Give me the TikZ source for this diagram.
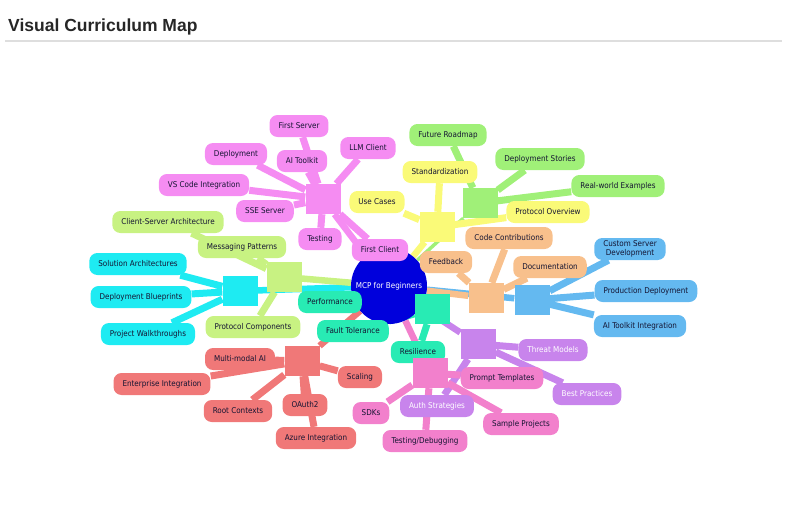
\documentclass[tikz,border=0pt]{standalone}
\usepackage{fontspec}
\setmainfont{DejaVu Sans Condensed}
\newfontfamily\titlefont{Liberation Sans}
\pgfdeclarelayer{bg}
\pgfsetlayers{bg,main}
\definecolor{rootblue}{RGB}{0,0,220}
\definecolor{mpink}{RGB}{245,140,242}
\definecolor{myellow}{RGB}{250,250,120}
\definecolor{mgreen}{RGB}{160,240,120}
\definecolor{mpeach}{RGB}{248,192,140}
\definecolor{msky}{RGB}{100,185,240}
\definecolor{mcyan}{RGB}{30,235,242}
\definecolor{mlime}{RGB}{200,242,130}
\definecolor{mteal}{RGB}{40,235,180}
\definecolor{msalmon}{RGB}{240,120,120}
\definecolor{mpurple}{RGB}{200,132,236}
\definecolor{mhot}{RGB}{242,128,204}
\definecolor{ink}{RGB}{20,20,50}

\begin{document}
\begin{tikzpicture}[x=1pt,y=-1pt,
topic/.style={rounded corners=8pt,inner xsep=9pt,inner ysep=2pt,minimum height=22pt,
  font=\fontsize{8}{9}\selectfont,text=ink},
hub/.style={minimum width=35pt,minimum height=30pt,inner sep=0pt},
link/.style={line width=7pt},
trunk/.style={line width=6.5pt}]
\useasboundingbox (0,0) rectangle (800,514);

\node[anchor=base west,inner sep=0pt,text=black!85,
  font=\titlefont\bfseries\fontsize{17.5}{20}\selectfont] (title) at (8,31) {Visual Curriculum Map};
\coordinate (ruleL) at (5,41);
\coordinate (ruleR) at (782,41);
\draw[black!13,line width=1.3pt] (ruleL) -- (ruleR);

\node[circle,fill=rootblue,minimum size=76pt,inner sep=0pt,text=white,
  font=\fontsize{8}{9}\selectfont] (root) at (389,286) {MCP for Beginners};

\node[hub,fill=mpink] (pinkhub) at (323,199) {};
\node[topic,fill=mpink] (firstserver) at (299,126) {First Server};
\node[topic,fill=mpink] (llmclient) at (368,148) {LLM Client};
\node[topic,fill=mpink] (deployment) at (236,154) {Deployment};
\node[topic,fill=mpink] (aitoolkit) at (302,161) {AI Toolkit};
\node[topic,fill=mpink] (vscode) at (204,185) {VS Code Integration};
\node[topic,fill=mpink] (sse) at (265,211) {SSE Server};
\node[topic,fill=mpink] (testing) at (320,239) {Testing};
\node[topic,fill=mpink] (firstclient) at (380,250) {First Client};

\node[hub,fill=myellow] (yellowhub) at (437,227) {};
\node[topic,fill=myellow] (standard) at (440,172) {Standardization};
\node[topic,fill=myellow] (usecases) at (377,202) {Use Cases};
\node[topic,fill=myellow] (overview) at (548,212) {Protocol Overview};

\node[hub,fill=mgreen] (greenhub) at (480,203) {};
\node[topic,fill=mgreen] (roadmap) at (448,135) {Future Roadmap};
\node[topic,fill=mgreen] (stories) at (540,159) {Deployment Stories};
\node[topic,fill=mgreen] (realworld) at (618,186) {Real-world Examples};

\node[hub,fill=mpeach] (peachhub) at (486,298) {};
\node[topic,fill=mpeach] (contrib) at (509,238) {Code Contributions};
\node[topic,fill=mpeach] (feedback) at (446,262) {Feedback};
\node[topic,fill=mpeach] (docs) at (550,267) {Documentation};

\node[hub,fill=msky] (skyhub) at (532,300) {};
\node[topic,fill=msky,align=center] (customserver) at (630,249) {Custom Server\\Development};
\node[topic,fill=msky] (production) at (646,291) {Production Deployment};
\node[topic,fill=msky] (toolkitint) at (640,326) {AI Toolkit Integration};

\node[hub,fill=mcyan] (cyanhub) at (240,291) {};
\node[topic,fill=mcyan] (solution) at (138,264) {Solution Architectures};
\node[topic,fill=mcyan] (blueprints) at (141,297) {Deployment Blueprints};
\node[topic,fill=mcyan] (walkthroughs) at (148,334) {Project Walkthroughs};

\node[hub,fill=mlime] (limehub) at (284,277) {};
\node[topic,fill=mlime] (clientserver) at (168,222) {Client-Server Architecture};
\node[topic,fill=mlime] (messaging) at (242,247) {Messaging Patterns};
\node[topic,fill=mlime] (components) at (253,327) {Protocol Components};

\node[hub,fill=mteal] (tealhub) at (432,309) {};
\node[topic,fill=mteal] (performance) at (330,302) {Performance};
\node[topic,fill=mteal] (fault) at (353,331) {Fault Tolerance};
\node[topic,fill=mteal] (resilience) at (418,352) {Resilience};

\node[hub,fill=msalmon] (redhub) at (302,361) {};
\node[topic,fill=msalmon] (multimodal) at (240,359) {Multi-modal AI};
\node[topic,fill=msalmon] (enterprise) at (162,384) {Enterprise Integration};
\node[topic,fill=msalmon] (rootctx) at (238,411) {Root Contexts};
\node[topic,fill=msalmon] (oauth) at (305,405) {OAuth2};
\node[topic,fill=msalmon] (azure) at (316,438) {Azure Integration};
\node[topic,fill=msalmon] (scaling) at (360,377) {Scaling};

\node[hub,fill=mpurple] (purplehub) at (478,344) {};
\node[topic,fill=mpurple,text=white] (threat) at (553,350) {Threat Models};
\node[topic,fill=mpurple,text=white] (practices) at (587,394) {Best Practices};
\node[topic,fill=mpurple,text=white] (auth) at (437,406) {Auth Strategies};

\node[hub,fill=mhot] (hothub) at (430,373) {};
\node[topic,fill=mhot] (prompt) at (502,378) {Prompt Templates};
\node[topic,fill=mhot] (sdks) at (371,413) {SDKs};
\node[topic,fill=mhot] (debugging) at (425,441) {Testing/Debugging};
\node[topic,fill=mhot] (samples) at (521,424) {Sample Projects};

\begin{pgfonlayer}{bg}
\draw[trunk,mpink] (root) -- (pinkhub);
\draw[trunk,myellow] (root) -- (yellowhub);
\draw[trunk,mgreen,line width=3.5pt] (root) -- (greenhub);
\draw[trunk,msky] (root) -- (skyhub);
\draw[trunk,mpeach] (root) -- (peachhub);
\draw[trunk,mcyan] (root) -- (cyanhub);
\draw[trunk,mlime] (root) -- (limehub);
\draw[trunk,mteal] (root) -- (tealhub);
\draw[trunk,msalmon] (root) -- (redhub);
\draw[trunk,mpurple] (root) -- (purplehub);
\draw[trunk,mhot] (root) -- (hothub);
\draw[link,mpink] (pinkhub) -- (firstserver) (pinkhub) -- (llmclient) (pinkhub) -- (deployment)
  (pinkhub) -- (aitoolkit) (pinkhub) -- (vscode) (pinkhub) -- (sse) (pinkhub) -- (testing)
  (pinkhub) -- (firstclient);
\draw[link,myellow] (yellowhub) -- (standard) (yellowhub) -- (usecases) (yellowhub) -- (overview);
\draw[link,mgreen] (greenhub) -- (roadmap) (greenhub) -- (stories) (greenhub) -- (realworld);
\draw[link,mpeach] (peachhub) -- (contrib) (peachhub) -- (feedback) (peachhub) -- (docs);
\draw[link,msky] (skyhub) -- (customserver) (skyhub) -- (production) (skyhub) -- (toolkitint);
\draw[link,mcyan] (cyanhub) -- (solution) (cyanhub) -- (blueprints) (cyanhub) -- (walkthroughs);
\draw[link,mlime] (limehub) -- (clientserver) (limehub) -- (messaging) (limehub) -- (components);
\draw[link,mteal] (tealhub) -- (performance) (tealhub) -- (fault) (tealhub) -- (resilience);
\draw[link,msalmon] (redhub) -- (multimodal) (redhub) -- (enterprise) (redhub) -- (rootctx)
  (redhub) -- (oauth) (redhub) -- (azure) (redhub) -- (scaling);
\draw[link,mpurple] (purplehub) -- (threat) (purplehub) -- (practices) (purplehub) -- (auth);
\draw[link,mhot] (hothub) -- (prompt) (hothub) -- (sdks) (hothub) -- (debugging) (hothub) -- (samples);
\end{pgfonlayer}
\end{tikzpicture}
\end{document}
